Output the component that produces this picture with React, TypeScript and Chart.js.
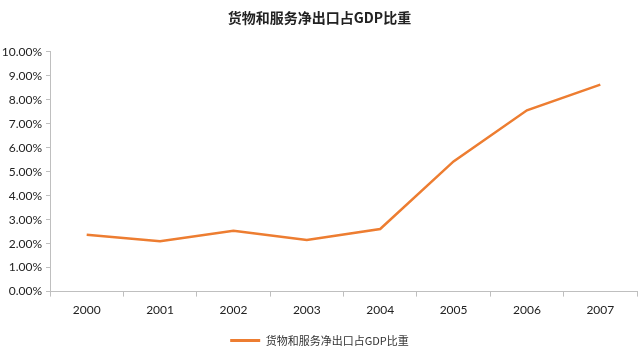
import React, { useEffect, useRef } from "react";
import { Chart, registerables } from "chart.js";

Chart.register(...registerables);

const years = ["2000", "2001", "2002", "2003", "2004", "2005", "2006", "2007"];
const netExportShare = [2.37, 2.1, 2.54, 2.15, 2.61, 5.43, 7.56, 8.63];
const seriesName = "货物和服务净出口占GDP比重";
const titleText = "货物和服务净出口占GDP比重";
const lineColor = "#ED7D31";
const axisColor = "#BFBFBF";

export default function App() {
  const ref = useRef<HTMLCanvasElement | null>(null);

  useEffect(() => {
    if (!ref.current) return;
    const chart = new Chart(ref.current, {
      type: "line",
      data: {
        labels: years,
        datasets: [
          {
            label: seriesName,
            data: netExportShare,
            borderColor: lineColor,
            backgroundColor: lineColor,
            borderWidth: 2.5,
            pointRadius: 0,
            tension: 0,
          },
        ],
      },
      options: {
        responsive: false,
        animation: false,
        layout: { padding: { left: 2, right: 3, top: 0, bottom: 0 } },
        plugins: {
          title: {
            display: true,
            text: titleText,
            color: "#222",
            font: { family: "'Noto Sans CJK SC'", size: 14, weight: "bold" },
            padding: { top: 9, bottom: 26 },
          },
          legend: {
            display: true,
            position: "bottom",
            labels: {
              boxWidth: 30,
              boxHeight: 3,
              color: "#333",
              font: { family: "'Noto Sans CJK SC'", size: 11 },
              padding: 12,
              generateLabels: (c: any) => {
                const ds = c.data.datasets[0];
                return [
                  {
                    text: ds.label,
                    fillStyle: lineColor,
                    strokeStyle: lineColor,
                    lineWidth: 0,
                    hidden: false,
                    datasetIndex: 0,
                    fontColor: "#333",
                  },
                ];
              },
            },
          },
          tooltip: { enabled: false },
        },
        scales: {
          x: {
            offset: true,
            grid: {
              offset: true,
              drawOnChartArea: false,
              drawTicks: true,
              tickLength: 5,
              color: axisColor,
            },
            border: { color: axisColor, width: 1 },
            ticks: {
              color: "#222",
              font: { family: "Lato", size: 12 },
              padding: 6,
              maxRotation: 0,
            },
          },
          y: {
            min: 0,
            max: 10,
            afterFit: (s: any) => {
              s.width = 48;
            },
            grid: {
              drawOnChartArea: false,
              drawTicks: true,
              tickLength: 4,
              color: axisColor,
            },
            border: { color: axisColor, width: 1 },
            ticks: {
              stepSize: 1,
              color: "#222",
              font: { family: "Lato", size: 12 },
              padding: 4,
              callback: (v: any) => Number(v).toFixed(2) + "%",
            },
          },
        },
      },
    });
    return () => chart.destroy();
  }, []);

  return (
    <div style={{ position: "fixed", left: 0, top: 0, width: 640, height: 356, background: "#fff" }}>
      <canvas ref={ref} width={640} height={356} />
    </div>
  );
}
